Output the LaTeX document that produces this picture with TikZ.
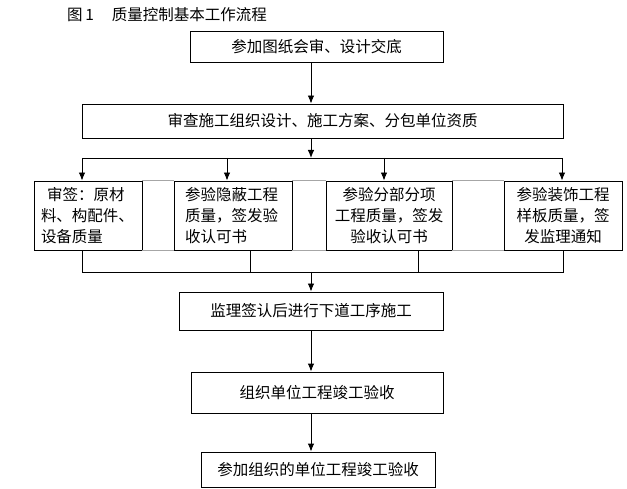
\documentclass[tikz,border=0pt]{standalone}
\usepackage{fontspec}
\setmainfont{Noto Sans CJK SC}
\usetikzlibrary{arrows.meta}
\begin{document}
\begin{tikzpicture}[x=1pt,y=-1pt,
  txt/.style={font=\fontsize{15.5pt}{21pt}\selectfont},
  box/.style={draw,line width=0.9pt,inner sep=0pt,txt},
  arr/.style={line width=0.9pt,-{Latex[length=8pt,width=6.5pt]}},
  ln/.style={line width=0.9pt},
  faint/.style={line width=0.8pt,draw=black!35}]
\useasboundingbox (0,0) rectangle (627,489);
\node[txt,anchor=west,inner sep=0pt] (title) at (67,15) {图\,1\hspace{18pt}质量控制基本工作流程};
\node[box,minimum width=253pt,minimum height=31pt] (b1) at (316.5,46.5) {参加图纸会审、设计交底};
\node[box,minimum width=481pt,minimum height=34pt] (b2) at (322.5,121) {审查施工组织设计、施工方案、分包单位资质};
\node[box,minimum width=108pt,minimum height=69pt,text width=94pt,align=left] (A) at (88,215.5) {\hspace*{6pt}审签：原材\\料、构配件、\\设备质量};
\node[box,minimum width=118pt,minimum height=69pt,text width=96pt,align=left] (B) at (233,215.5) {参验隐蔽工程\\质量，签发验\\收认可书};
\node[box,minimum width=126pt,minimum height=69pt,align=center] (C) at (389,215.5) {参验分部分项\\工程质量，签发\\验收认可书};
\node[box,minimum width=118pt,minimum height=69pt,align=center] (D) at (563,215.5) {参验装饰工程\\样板质量，签\\发监理通知};
\node[box,minimum width=264pt,minimum height=38pt] (E) at (311,311) {监理签认后进行下道工序施工};
\node[box,minimum width=252pt,minimum height=41pt] (F) at (317,392.5) {组织单位工程竣工验收};
\node[box,minimum width=234pt,minimum height=35pt] (G) at (318,469.5) {参加组织的单位工程竣工验收};
\coordinate (sp) at (311,0);
\coordinate (t1) at (82,158);
\coordinate (t2) at (227,158);
\coordinate (t3) at (384,158);
\coordinate (t4) at (562,158);
\coordinate (u1) at (82,272);
\coordinate (u2) at (250,272);
\coordinate (u3) at (418,272);
\coordinate (u4) at (563,272);
\draw[arr] (b1.south -| sp) -- (b2.north -| sp);
\draw[arr] (b2.south -| sp) -- (sp |- t1);
\draw[ln] (t1) -- (t4);
\draw[arr] (t1) -- (t1 |- A.north);
\draw[arr] (t2) -- (t2 |- B.north);
\draw[arr] (t3) -- (t3 |- C.north);
\draw[arr] (t4) -- (t4 |- D.north);
\draw[faint] (A.north east) -- (B.north west);
\draw[faint] (B.north east) -- (C.north west);
\draw[faint] (C.north east) -- (D.north west);
\draw[faint] (A.south east) -- (B.south west);
\draw[faint] (B.south east) -- (C.south west);
\draw[faint] (C.south east) -- (D.south west);
\draw[ln] (u1 |- A.south) -- (u1) -- (u4) -- (u4 |- D.south);
\draw[ln] (u2 |- B.south) -- (u2);
\draw[ln] (u3 |- C.south) -- (u3);
\draw[arr] (sp |- u1) -- (E.north -| sp);
\draw[arr] (E.south -| sp) -- (F.north -| sp);
\draw[arr] (F.south -| sp) -- (G.north -| sp);
\end{tikzpicture}
\end{document}
